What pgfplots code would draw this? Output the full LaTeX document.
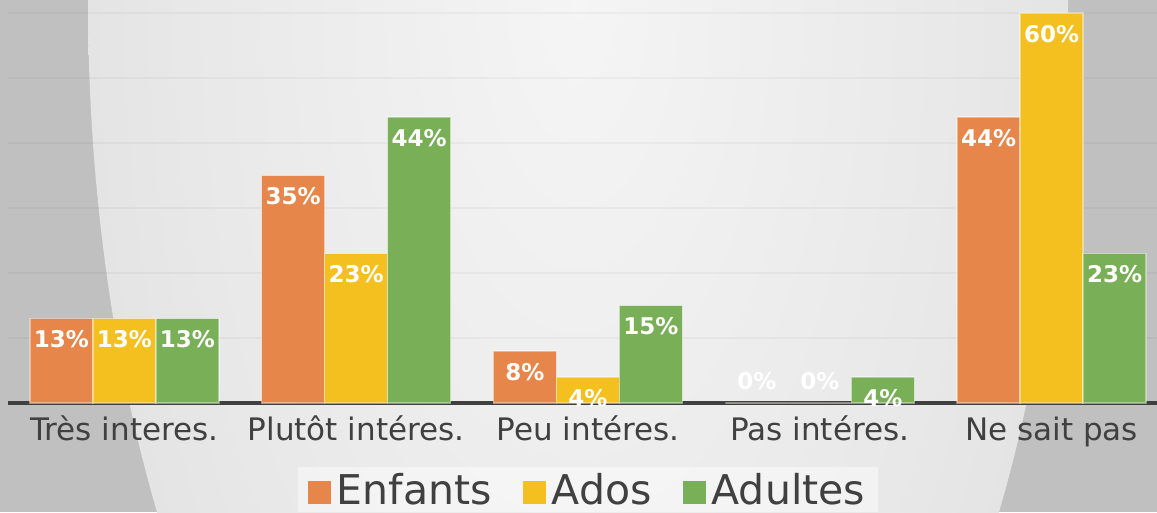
\documentclass[border=0pt]{standalone}
\usepackage{pgfplots}
\pgfplotsset{compat=1.18}
\usepackage{fontspec}
\setmainfont{DejaVu Sans}

\definecolor{cEnf}{HTML}{E7864A}
\definecolor{cAdo}{HTML}{F4C020}
\definecolor{cAdu}{HTML}{79AF57}
\definecolor{txt}{HTML}{404040}
\definecolor{bgout}{HTML}{C0C0C0}

\pgfdeclareradialshading{bgshade}{\pgfpoint{0bp}{0bp}}{%
  color(0bp)=(white!96!black); color(20bp)=(white!91!black);
  color(36bp)=(white!86!black); color(49bp)=(white!82!black);
  color(50bp)=(white!81!black)}

\begin{document}
\begin{tikzpicture}
\begin{scope}
  \clip (0,0) rectangle (1157pt,512pt);
  \fill[bgout] (0,0) rectangle (1157pt,512pt);
  \shade[shading=bgshade] (578pt,512pt) ellipse (490pt and 1000pt);
\end{scope}
\begin{axis}[
    at={(8.5pt,109pt)}, anchor=south west,
    scale only axis,
    width=1159pt, height=403pt,
    xmin=-0.5, xmax=4.5,
    ymin=0, ymax=62,
    ybar=0pt, bar width=63pt,
    axis x line=bottom, axis y line=left,
    axis line style={-},
    x axis line style={draw=txt, line width=4pt},
    y axis line style={draw=none},
    major tick length=0pt,
    /pgf/number format/assume math mode=true,
    xtick={0,1,2,3,4},
    xticklabels={Très interes., Plutôt intéres., Peu intéres., Pas intéres., Ne sait pas},
    xticklabel style={font=\fontsize{31}{37}\selectfont, text=txt, anchor=base, yshift=-37pt},
    ytick={10,20,30,40,50,60},
    yticklabels={},
    ymajorgrids,
    grid style={black, opacity=0.035, line width=1.5pt},
    every axis plot/.append style={draw=white, draw opacity=0.4, line width=1.5pt},
    nodes near coords={\pgfmathprintnumber[fixed,precision=0]{\pgfplotspointmeta}\%},
    visualization depends on={y \as \rawy},
    every node near coord/.append style={font=\fontsize{23}{27}\bfseries\selectfont,
        text=white, anchor=center, yshift={((\rawy<0.5)*43-21)*1pt}},
    legend columns=3,
    legend image code/.code={\fill[#1, draw=none, fill opacity=1] (0pt,-14pt) rectangle (23pt,9pt);},
    legend style={at={(axis description cs:0.5,-0.1588)}, anchor=north,
        draw=none, fill=white, fill opacity=0.45, text opacity=1,
        font=\fontsize{41}{48}\selectfont, text=txt,
        inner xsep=10pt, inner ysep=4pt,
        nodes={inner xsep=3pt, inner ysep=2pt},
        /tikz/every odd column/.append style={column sep=3pt},
        /tikz/every even column/.append style={column sep=28pt}},
]
\addplot[fill=cEnf] coordinates {(0,13) (1,35) (2,8) (3,0) (4,44)};
\addplot[fill=cAdo] coordinates {(0,13) (1,23) (2,4) (3,0) (4,60)};
\addplot[fill=cAdu] coordinates {(0,13) (1,44) (2,15) (3,4) (4,23)};
\legend{Enfants, Ados, Adultes}
\end{axis}
\pgfresetboundingbox
\useasboundingbox (0,0) rectangle (1157pt,512pt);
\end{tikzpicture}
\end{document}
